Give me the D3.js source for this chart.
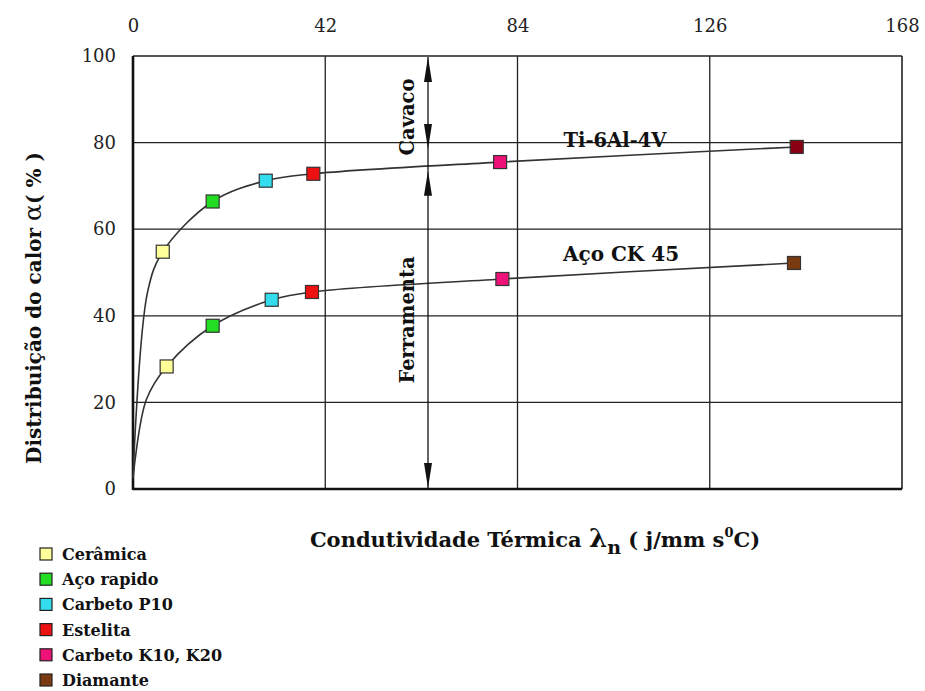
<!DOCTYPE html>
<html><head><meta charset="utf-8">
<script src="https://cdn.jsdelivr.net/npm/d3@7"></script>
<style>body{margin:0;background:#fff}svg{display:block}text{font-family:"DejaVu Serif",serif}</style>
</head><body>
<script>
// Data
const xTicks = [0, 42, 84, 126, 168];
const yTicks = [0, 20, 40, 60, 80, 100];
const materials = ["Cerâmica", "Aço rapido", "Carbeto P10", "Estelita", "Carbeto K10, K20", "Diamante"];
const materialColors = ["#ffff99", "#22dd22", "#33ddee", "#ee1111", "#ee1177", "#7a3a10"];
const tiCurveX = [0, 3.2, 6.5, 17.4, 29, 39.4, 80.2, 145];
const tiCurveY = [2.5, 45.6, 54.8, 66.4, 71.2, 72.8, 75.5, 79];
const tiPointsX = [6.5, 17.4, 29, 39.4, 80.2, 145];
const tiPointsY = [54.8, 66.4, 71.2, 72.8, 75.5, 79];
const acoCurveX = [0, 2.9, 7.35, 17.4, 30.3, 39.1, 80.7, 144.4];
const acoCurveY = [2.5, 20.6, 28.3, 37.7, 43.7, 45.5, 48.5, 52.2];
const acoPointsX = [7.35, 17.4, 30.3, 39.1, 80.7, 144.4];
const acoPointsY = [28.3, 37.7, 43.7, 45.5, 48.5, 52.2];
const tiColors = ["#ffff99", "#22dd22", "#33ddee", "#ee1111", "#ee1177", "#880011"];
const seriesLabels = ["Ti-6Al-4V", "Aço CK 45"];

const W = 925, H = 691;
const svg = d3.select("body").append("svg").attr("width", W).attr("height", H);
const x = d3.scaleLinear().domain([0, 168]).range([133, 902]);
const y = d3.scaleLinear().domain([0, 100]).range([489, 56]);

// grid
const g = svg.append("g");
g.selectAll(".hg").data(yTicks.filter(d => d > 0 && d < 100)).enter().append("line")
  .attr("x1", x(0)).attr("x2", x(168)).attr("y1", d => y(d)).attr("y2", d => y(d))
  .attr("stroke", "#222").attr("stroke-width", 1.3);
g.selectAll(".vg").data(xTicks.filter(d => d > 0 && d < 168)).enter().append("line")
  .attr("y1", y(0)).attr("y2", y(100)).attr("x1", d => x(d)).attr("x2", d => x(d))
  .attr("stroke", "#222").attr("stroke-width", 1.3);
// frame
g.append("line").attr("x1", x(0)).attr("x2", x(168)).attr("y1", y(100)).attr("y2", y(100)).attr("stroke", "#222").attr("stroke-width", 1.6);
g.append("line").attr("x1", x(168)).attr("x2", x(168)).attr("y1", y(100)).attr("y2", y(0)).attr("stroke", "#222").attr("stroke-width", 1.6);
g.append("line").attr("x1", x(0)).attr("x2", x(168)).attr("y1", y(0)).attr("y2", y(0)).attr("stroke", "#111").attr("stroke-width", 2.6);
g.append("line").attr("x1", x(0)).attr("x2", x(0)).attr("y1", y(100)).attr("y2", y(0) + 1).attr("stroke", "#111").attr("stroke-width", 2.6);

// axes (top and left)
const xAxis = d3.axisTop(x).tickValues(xTicks).tickSize(0).tickPadding(0);
const ax = svg.append("g").attr("transform", "translate(0,32)").call(xAxis);
ax.select(".domain").remove();
ax.selectAll("text").attr("font-size", 18).attr("fill", "#222").attr("font-family", '"DejaVu Serif",serif').attr("dy", 0);
const yAxis = d3.axisLeft(y).tickValues(yTicks).tickSize(0).tickPadding(0);
const ay = svg.append("g").attr("transform", "translate(116,0)").call(yAxis);
ay.select(".domain").remove();
ay.selectAll("text").attr("font-size", 18).attr("fill", "#222").attr("font-family", '"DejaVu Serif",serif');

// curves
const line = d3.line().x(d => x(d[0])).y(d => y(d[1])).curve(d3.curveCatmullRom.alpha(0.5));
svg.append("path").datum(tiCurveX.map((v, i) => [v, tiCurveY[i]])).attr("d", line)
  .attr("fill", "none").attr("stroke", "#333").attr("stroke-width", 1.6);
svg.append("path").datum(acoCurveX.map((v, i) => [v, acoCurveY[i]])).attr("d", line)
  .attr("fill", "none").attr("stroke", "#333").attr("stroke-width", 1.6);

// markers
const s = 13;
svg.selectAll(".ti").data(tiPointsX.map((v, i) => [v, tiPointsY[i], tiColors[i]])).enter().append("rect")
  .attr("x", d => x(d[0]) - s / 2).attr("y", d => y(d[1]) - s / 2).attr("width", s).attr("height", s)
  .attr("fill", d => d[2]).attr("stroke", "#333").attr("stroke-width", 1.2);
svg.selectAll(".aco").data(acoPointsX.map((v, i) => [v, acoPointsY[i], materialColors[i]])).enter().append("rect")
  .attr("x", d => x(d[0]) - s / 2).attr("y", d => y(d[1]) - s / 2).attr("width", s).attr("height", s)
  .attr("fill", d => d[2]).attr("stroke", "#333").attr("stroke-width", 1.2);

// series labels
svg.append("text").attr("x", 615).attr("y", 147).attr("text-anchor", "middle").attr("font-size", 19.5).attr("font-weight", "bold").attr("fill", "#111").text(seriesLabels[0]);
svg.append("text").attr("x", 621).attr("y", 261).attr("text-anchor", "middle").attr("font-size", 20).attr("font-weight", "bold").attr("fill", "#111").text(seriesLabels[1]);

// arrows
const defs = svg.append("defs");
defs.append("marker").attr("id", "ah").attr("viewBox", "0 0 10 10").attr("refX", 10).attr("refY", 5)
  .attr("markerWidth", 25).attr("markerHeight", 8).attr("markerUnits", "userSpaceOnUse").attr("orient", "auto-start-reverse")
  .attr("preserveAspectRatio", "none")
  .append("path").attr("d", "M0,0L10,5L0,10Z").attr("fill", "#111");
const ax0 = 428;
svg.append("line").attr("x1", ax0).attr("x2", ax0).attr("y1", y(100) + 1).attr("y2", y(78.5))
  .attr("stroke", "#111").attr("stroke-width", 1.3).attr("marker-start", "url(#ah)").attr("marker-end", "url(#ah)");
svg.append("line").attr("x1", ax0).attr("x2", ax0).attr("y1", y(73.5)).attr("y2", y(0) - 1)
  .attr("stroke", "#111").attr("stroke-width", 1.3).attr("marker-start", "url(#ah)").attr("marker-end", "url(#ah)");
svg.append("line").attr("x1", ax0).attr("x2", ax0).attr("y1", y(78.5)).attr("y2", y(73.5))
  .attr("stroke", "#111").attr("stroke-width", 1.3);
svg.append("text").attr("transform", `translate(414,117) rotate(-90)`).attr("text-anchor", "middle")
  .attr("font-size", 19.5).attr("font-weight", "bold").attr("fill", "#111").text("Cavaco");
svg.append("text").attr("transform", `translate(414,320) rotate(-90)`).attr("text-anchor", "middle")
  .attr("font-size", 19.5).attr("font-weight", "bold").attr("fill", "#111").text("Ferramenta");

// y axis title
const yt = svg.append("text").attr("transform", "translate(41,308) rotate(-90)").attr("text-anchor", "middle")
  .attr("font-size", 20).attr("font-weight", "bold").attr("fill", "#111");
yt.append("tspan").text("Distribuição do calor ");
yt.append("tspan").attr("font-size", 25).attr("font-weight", "normal").text("α");
yt.append("tspan").text("( % )");

// x axis title
const xt = svg.append("text").attr("x", 535).attr("y", 547).attr("text-anchor", "middle")
  .attr("font-size", 21).attr("font-weight", "bold").attr("fill", "#111");
xt.append("tspan").text("Condutividade Térmica  ");
xt.append("tspan").attr("font-size", 26).text("λ");
xt.append("tspan").attr("font-size", 19).attr("dy", 7).text("n");
xt.append("tspan").attr("dy", -7).text(" ( j/mm s");
xt.append("tspan").attr("font-size", 13).attr("dy", -10).text("0");
xt.append("tspan").attr("dy", 10).text("C)");

// legend
const lg = svg.append("g").selectAll("g").data(materials).enter().append("g")
  .attr("transform", (d, i) => `translate(40,${548 + i * 25.2})`);
lg.append("rect").attr("width", 12).attr("height", 12).attr("fill", (d, i) => materialColors[i]).attr("stroke", "#222").attr("stroke-width", 1.2);
lg.append("text").attr("x", 22).attr("y", 12).attr("font-size", 16).attr("font-weight", "bold").attr("fill", "#111").text(d => d);
</script>
</body></html>
